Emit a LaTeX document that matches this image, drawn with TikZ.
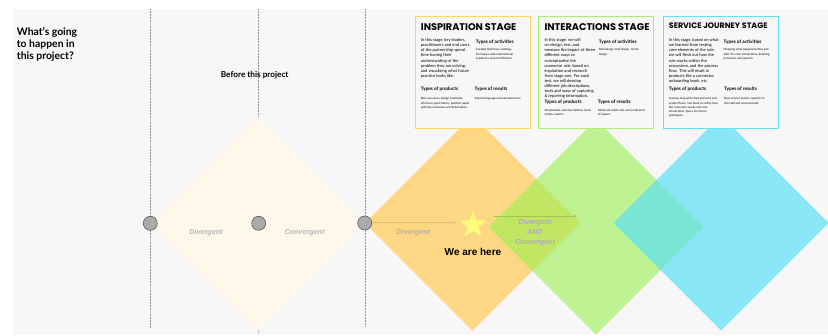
\documentclass[tikz,border=0pt]{standalone}
\usepackage{fontspec}
\setmainfont{Lato}
\newfontfamily\titlefont{Poppins}
\newfontfamily\arialfont{Liberation Sans}
\usetikzlibrary{shapes.geometric,arrows.meta}
\definecolor{bgc}{HTML}{F7F7F7}
\definecolor{creamc}{HTML}{FEF8EA}
\definecolor{orangec}{HTML}{FDD784}
\definecolor{greenc}{HTML}{BEF192}
\definecolor{bluec}{HTML}{89E7F5}
\definecolor{lapog}{HTML}{C1E664}
\definecolor{lapgb}{HTML}{78E6D2}
\definecolor{orangeb}{HTML}{FFD766}
\definecolor{greenb}{HTML}{ACEE6F}
\definecolor{blueb}{HTML}{62E3F4}
\definecolor{labelc}{HTML}{B8B8B8}
\definecolor{labelo}{HTML}{BDAE9C}
\definecolor{labelg}{HTML}{AFA9C6}
\definecolor{staryel}{HTML}{FFFC78}
\tikzset{
 diam/.style={diamond,aspect=1,inner sep=0pt,outer sep=0pt,minimum size=215pt},
 dot/.style={circle,draw=black!65,line width=.6pt,fill=black!33,minimum size=14pt,inner sep=0pt},
 stagebox/.style={draw,line width=1.3pt,fill=bgc,minimum width=115pt,minimum height=111.6pt,inner sep=0pt},
 stagetitle/.style={anchor=west,inner sep=0pt,font=\titlefont\bfseries\fontsize{9.7}{11}\selectfont},
 para/.style={anchor=north west,inner sep=0pt,align=left,font=\fontsize{4.1}{5.05}\selectfont},
 head/.style={anchor=north west,inner sep=0pt,font=\bfseries\fontsize{4.7}{5}\selectfont},
 small/.style={anchor=north west,inner sep=0pt,align=left,font=\fontsize{2.95}{4.2}\selectfont},
 phase/.style={inner sep=0pt,align=center,text=labelc,font=\arialfont\bfseries\itshape\fontsize{7.2}{10}\selectfont},
 vline/.style={densely dotted,line width=.5pt,draw=black!42},
 faintt/.style={line width=.35pt,-{Stealth[length=3pt,width=2.5pt]}}
}
\begin{document}
\begin{tikzpicture}[x=1pt,y=-1pt]
\useasboundingbox (0,0) rectangle (828,335);
\fill[white] (0,0) rectangle (828,335);
\fill[bgc] (13,9) rectangle (828,335);
% dotted guides
\coordinate (va) at (150.5,9); \coordinate (vab) at (150.5,328);
\coordinate (vb) at (258.5,9); \coordinate (vbb) at (258.5,332);
\coordinate (vc) at (365.5,9); \coordinate (vcb) at (365.5,327);
\draw[vline] (va)--(vab);
\draw[vline] (vb)--(vbb);
\draw[vline] (vc)--(vcb);
% diamonds
\node[diam,fill=creamc] (dcream) at (257.5,223.5) {};
\node[diam,fill=orangec] (dorange) at (472.5,223) {};
\node[diam,fill=greenc] (dgreen) at (596,227) {};
\begin{scope}
\clip (dorange.west)--(dorange.north)--(dorange.east)--(dorange.south)--cycle;
\fill[lapog] (dgreen.west)--(dgreen.north)--(dgreen.east)--(dgreen.south)--cycle;
\end{scope}
\node[diam,fill=bluec] (dblue) at (721,223) {};
\begin{scope}
\clip (dblue.west)--(dblue.north)--(dblue.east)--(dblue.south)--cycle;
\fill[lapgb] (dgreen.west)--(dgreen.north)--(dgreen.east)--(dgreen.south)--cycle;
\end{scope}
% dots
\node[dot] (p1) at (150.3,223.3) {};
\node[dot] (p2) at (258.7,223.3) {};
\node[dot] (p3) at (364.7,223) {};
% star
\node[star,star points=5,star point ratio=2.5,fill=staryel,inner sep=0pt,minimum size=29pt] (st) at (473,225) {};
\coordinate (arrowend) at (456,222.5);
\coordinate (lapa) at (494,216);
\coordinate (lapb) at (577,216);
\draw[faintt,draw=black!12!orangec] (p3.east |- arrowend) -- (arrowend);
\draw[faintt,draw=black!15!lapog] (lapa) -- (lapb);
% phase labels
\node[phase] (l1) at (206,232.3) {Divergent};
\node[phase] (l2) at (304.5,232.5) {Convergent};
\node[phase,text=labelo] (l3) at (413.5,232.7) {Divergent};
\node[phase,text=labelg] (l4) at (535,232.5) {Divergent\\AND\\Convergent};
\node[inner sep=0pt,font=\arialfont\bfseries\fontsize{10}{12}\selectfont] (here) at (473,252) {We are here};
\node[anchor=north west,inner sep=0pt,align=left,font=\bfseries\fontsize{10.4}{12}\selectfont] (q) at (16.7,27.5) {What's going\\to happen in\\this project?};
\node[inner sep=0pt,font=\bfseries\fontsize{8.2}{9}\selectfont] (before) at (254.7,75.3) {Before this project};
% Stage 1
\node[stagebox,draw=orangeb] (b1) at (472.8,72.5) {};
\node[stagetitle] (t1) at (420.7,26.7) {INSPIRATION STAGE};
\node[para] (a1) at (420.7,38.6) {In this stage, key leaders,\\practitioners and end users\\of the partnership spend\\time honing their\\understanding of the\\problem they are solving,\\and visualizing what future\\practice looks like.};
\node[head] (h11) at (475.7,39.7) {Types of activities};
\node[small] (s11) at (475.7,48.6) {Curated field trips, readings,\\interviews with international\\academics and practitioners};
\node[head] (h12) at (420.7,86.7) {Types of products};
\node[small] (s12) at (420.7,97.6) {Role use cases, design principles,\\reference point library, position paper\\with key outcomes and deliverables};
\node[head] (h13) at (474.5,86.7) {Types of results};
\node[small] (s13) at (474.5,97.6) {Shared language and narrative trust};
% Stage 2
\node[stagebox,draw=greenb] (b2) at (596.2,72.5) {};
\node[stagetitle] (t2) at (544.3,26.7) {INTERACTIONS STAGE};
\node[para] (a2) at (544.3,38.6) {In this stage, we will\\co-design, test, and\\measure the impact of three\\different ways to\\conceptualise the\\connector role, based on\\inspiration and research\\from stage one. For each\\test, we will develop\\different job descriptions,\\tools and ways of capturing\\\& reporting information.};
\node[head] (h21) at (598.7,39.7) {Types of activities};
\node[small] (s21) at (598.7,48.6) {Role design, tool design, metric\\design};
\node[head] (h22) at (544.3,99.4) {Types of products};
\node[small] (s22) at (544.3,109.4) {Storyboards, role descriptions, tools,\\scripts, metrics};
\node[head] (h23) at (597.7,99.4) {Types of results};
\node[small] (s23) at (597.7,109.4) {Minimum viable role, early indicators\\of impact};
% Stage 3
\node[stagebox,draw=blueb] (b3) at (720.7,72.5) {};
\node[stagetitle,font=\titlefont\bfseries\fontsize{7.9}{11}\selectfont] (t3) at (668.7,26) {SERVICE JOURNEY STAGE};
\node[para] (a3) at (668.7,38.6) {In this stage, based on what\\we learned from testing\\core elements of the role,\\we will flesh out how the\\role works within the\\ecosystem, and the process\\flow. This will result in\\products like a connector\\onboarding book, etc.};
\node[head] (h31) at (723.5,39.7) {Types of activities};
\node[small] (s31) at (723.5,48.6) {Mapping what happens before and\\after the core interactions, detailing\\processes and systems};
\node[head] (h32) at (668.7,86.7) {Types of products};
\node[small] (s32) at (668.7,97.6) {Journey map with front and back end\\system flows, role book to codify how\\the connector works and core\\interactions. Specs for future\\prototypes};
\node[head] (h33) at (724,86.7) {Types of results};
\node[small] (s33) at (724,97.6) {New service model, capacity to\\storytell and communicate};
\end{tikzpicture}
\end{document}
